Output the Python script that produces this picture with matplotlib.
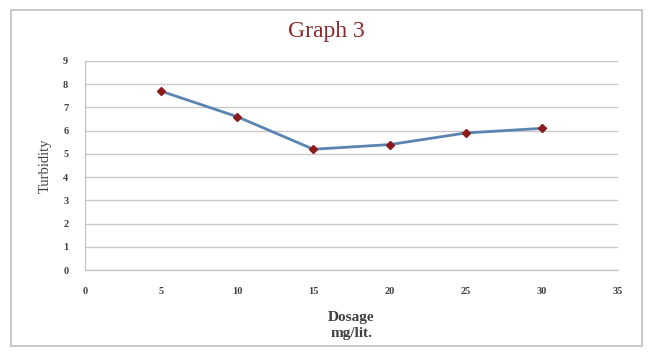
import matplotlib.pyplot as plt
from matplotlib.patches import Rectangle

dosage = [5, 10, 15, 20, 25, 30]
turbidity = [7.7, 6.6, 5.2, 5.4, 5.9, 6.1]
xticks = [0, 5, 10, 15, 20, 25, 30, 35]
yticks = [0, 1, 2, 3, 4, 5, 6, 7, 8, 9]

fig = plt.figure(figsize=(6.53, 3.52), dpi=100)
fig.patches.append(Rectangle((11/653, 6/352), 631/653, 336/352, transform=fig.transFigure,
                             fill=False, edgecolor='#bfbfbf', linewidth=1.2))

ax = fig.add_axes([85/653, 1-270/352, 533/653, 209/352])
ax.plot(dosage, turbidity, color='#5b84b1', linewidth=2, marker='D', markersize=4.5,
        markerfacecolor='#8b1a1a', markeredgecolor='#8b1a1a', zorder=3)

ax.set_xlim(0, 35)
ax.set_ylim(0, 9)
ax.set_xticks(xticks)
ax.set_yticks(yticks)
ax.grid(axis='y', color='#c8c8c8', linewidth=1)
ax.set_axisbelow(True)
for s in ['top', 'right']:
    ax.spines[s].set_visible(False)
for s in ['left', 'bottom']:
    ax.spines[s].set_color('#c0c0c0')
ax.tick_params(axis='x', length=0, labelsize=7.5, labelcolor='#404040', pad=12)
ax.tick_params(axis='y', length=0, labelsize=7.5, labelcolor='#404040', pad=12)
for lab in ax.get_xticklabels() + ax.get_yticklabels():
    lab.set_family('Liberation Serif')
    lab.set_fontweight('bold')

ax.set_xlabel('Dosage\nmg/lit.', family='Liberation Serif', fontsize=11, fontweight='bold',
              color='#404040', linespacing=1.3, labelpad=11)
ax.set_ylabel('Turbidity', family='Liberation Serif', fontsize=10.5, color='#404040', labelpad=8)
fig.text(0.5, 1-32/352, 'Graph 3', ha='center', va='center', family='Liberation Serif',
         fontsize=17, color='#8b2a2a')

fig.savefig('out.png', dpi=100)
